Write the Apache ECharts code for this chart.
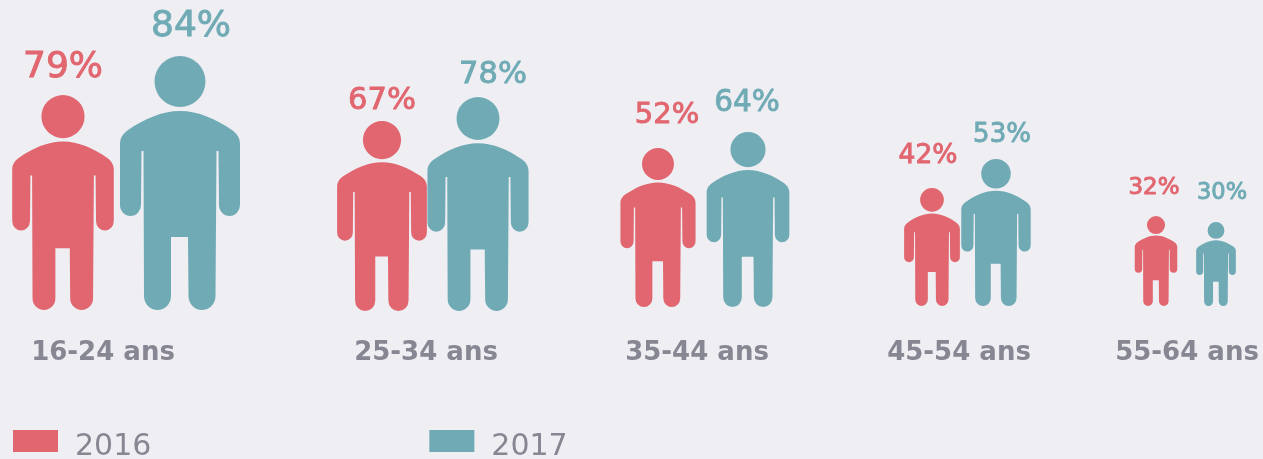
<!DOCTYPE html>
<html>
<head>
<meta charset="utf-8">
<style>html,body{margin:0;padding:0;background:#eeeef3}#c{width:1263px;height:459px}</style>
<script src="https://cdn.jsdelivr.net/npm/echarts@6/dist/echarts.min.js"></script>
</head>
<body>
<div id="c"></div>
<script>
var ageGroups = ['16-24 ans', '25-34 ans', '35-44 ans', '45-54 ans', '55-64 ans'];
var years = ['2016', '2017'];
var percent2016 = [79, 67, 52, 42, 32];
var percent2017 = [84, 78, 64, 53, 30];
// drawn height of each figure (figures are not strictly proportional)
var figure2016 = [215, 190, 159, 118, 90];
var figure2017 = [254, 214, 175, 147, 84];

var colors = ['#e1666f', '#70abb5'];
var grey = '#878793';
var personAspect = 120 / 254;
var person = 'path://M60 0A25.5 25.5 0 1 1 59.99 0Z' +
  'M60 55C78 55 96 63 112 74C116 77 120 81 120 88L120 149A10.5 11 0 0 1 99 149L98.5 95L96.5 95' +
  'L95.5 240A13.5 14 0 0 1 68.5 240L68 181L51 181L51 240A13.5 14 0 0 1 24 240' +
  'L23.5 95L21.5 95L21 149A10.5 11 0 0 1 0 149L0 88C0 81 4 77 8 74C24 63 42 55 60 55Z';

// layout of each small multiple
var gridLeft = [4.5, 334, 613, 900, 1126];
var gridWidth = [234, 192, 180, 128, 120];
var gridBottom = [310, 311, 307, 306, 306];
var axisShift = [-18.5, -4, -6, -5, 1];
var labelFont = [[36, 30.5, 29, 26.5, 23], [36, 30.5, 29.5, 26, 22.5]];
var labelDx = [[0, 0, 9, -4, -2], [11, 15, -1, 6, 6]];
var labelGap = [[27, 20, 33, 32, 28], [29, 22, 29, 24, 29]];

var grids = [], xAxes = [], yAxes = [], series = [];
ageGroups.forEach(function (g, i) {
  grids.push({ left: gridLeft[i], width: gridWidth[i], top: gridBottom[i] - 300, height: 300 });
  var s = axisShift[i];
  xAxes.push({
    type: 'category', gridIndex: i, data: [g],
    axisLine: { show: false }, axisTick: { show: false },
    axisLabel: {
      interval: 0, margin: 353 - 13 - gridBottom[i], color: grey, fontFamily: 'DejaVu Sans',
      fontWeight: 'bold', fontSize: 26, lineHeight: 26,
      padding: s < 0 ? [0, -2 * s, 0, 0] : [0, 0, 0, 2 * s]
    }
  });
  yAxes.push({ type: 'value', gridIndex: i, min: 0, max: 300, show: false });
  [[figure2016, percent2016], [figure2017, percent2017]].forEach(function (pair, k) {
    var fs = labelFont[k][i];
    series.push({
      type: 'pictorialBar', name: years[k], xAxisIndex: i, yAxisIndex: i,
      barGap: 0, barCategoryGap: 0,
      symbol: person, symbolSize: [pair[0][i] * personAspect, '100%'],
      itemStyle: { color: colors[k] },
      label: {
        show: true, position: 'top', distance: 0,
        offset: [labelDx[k][i], fs / 2 - labelGap[k][i]],
        formatter: pair[1][i] + '%',
        fontFamily: 'DejaVu Sans', fontSize: fs, lineHeight: fs, color: colors[k],
        textBorderColor: colors[k], textBorderWidth: 0.9
      },
      data: [pair[0][i]]
    });
  });
});

var chart = echarts.init(document.getElementById('c'), null, { renderer: 'canvas' });
chart.setOption({
  animation: false,
  backgroundColor: '#eeeef3',
  grid: grids, xAxis: xAxes, yAxis: yAxes, series: series,
  tooltip: { show: false },
  legend: {
    data: years.map(function (y, k) { return { name: y, icon: 'rect', itemStyle: { color: colors[k] } }; }),
    left: 13, top: 420, padding: 0, itemWidth: 45, itemHeight: 22, itemGap: 278,
    selectedMode: false,
    formatter: '{a|{name}}',
    textStyle: {
      padding: [0, 0, 0, 12],
      rich: { a: { fontFamily: 'DejaVu Sans', fontSize: 30, lineHeight: 30, color: grey, padding: [12, 0, 0, 0] } }
    }
  }
});
</script>
</body>
</html>
